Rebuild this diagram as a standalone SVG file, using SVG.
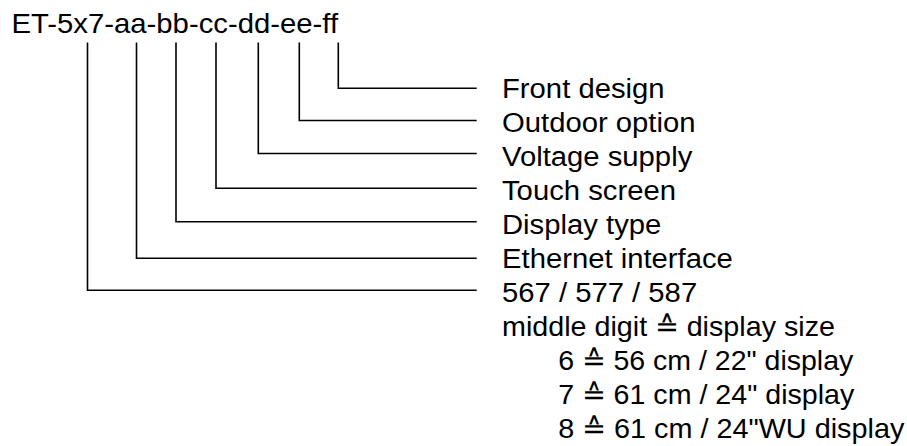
<svg xmlns="http://www.w3.org/2000/svg" width="907" height="446" viewBox="0 0 907 446">
<style>
text{font-family:"Liberation Sans",Arial,sans-serif;font-size:28px;fill:#000}
.c{fill:none;stroke:#000;stroke-width:1.6}
</style>
<rect width="907" height="446" fill="#fff"/>
<g id="title"><text transform="translate(11.5,33) scale(1.046,1)">ET-5x7-aa-bb-cc-dd-ee-ff</text></g>
<g id="connectors">
<polyline class="c" points="338.3,42.5 338.3,88.3 476.7,88.3"/>
<polyline class="c" points="299.3,42.5 299.3,120.5 476.7,120.5"/>
<polyline class="c" points="258.3,42.5 258.3,153.5 476.7,153.5"/>
<polyline class="c" points="216,42.5 216,188.3 476.7,188.3"/>
<polyline class="c" points="176,42.5 176,221.7 476.7,221.7"/>
<polyline class="c" points="136.5,42.5 136.5,258.3 476.7,258.3"/>
<polyline class="c" points="87.5,42.5 87.5,290.3 476.7,290.3"/>
</g>
<g id="front"><text transform="translate(502,98.3) scale(1.045,1)">Front design</text></g>
<g id="outdoor"><text transform="translate(502,132.3) scale(1.045,1)">Outdoor option</text></g>
<g id="voltage"><text transform="translate(502,166.3) scale(1.045,1)">Voltage supply</text></g>
<g id="touch"><text transform="translate(502,200.3) scale(1.045,1)">Touch screen</text></g>
<g id="dtype"><text transform="translate(502,234.3) scale(1.045,1)">Display type</text></g>
<g id="ethernet"><text transform="translate(502,268.3) scale(1.045,1)">Ethernet interface</text></g>
<g id="model">
<text transform="translate(502,302.3) scale(1.045,1)">567 / 577 / 587</text>
<text x="502" y="336.3" textLength="333" lengthAdjust="spacingAndGlyphs">middle digit ≙ display size</text>
<text x="558.3" y="370.3" textLength="295" lengthAdjust="spacingAndGlyphs">6 ≙ 56 cm / 22" display</text>
<text x="558.3" y="404.3" textLength="296" lengthAdjust="spacingAndGlyphs">7 ≙ 61 cm / 24" display</text>
<text x="558.3" y="438.3" textLength="346" lengthAdjust="spacingAndGlyphs">8 ≙ 61 cm / 24"WU display</text>
</g>
</svg>
